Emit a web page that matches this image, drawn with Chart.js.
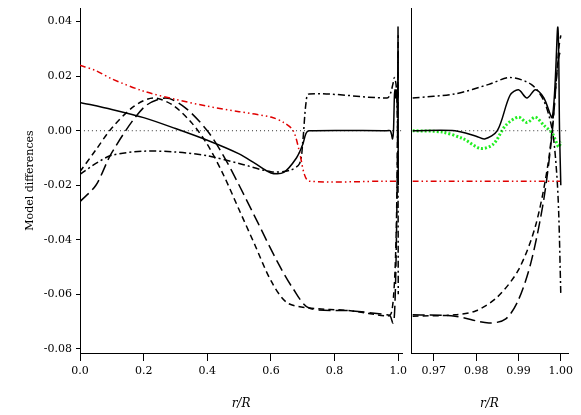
<!DOCTYPE html>
<html><head><meta charset="utf-8">
<script src="https://cdn.jsdelivr.net/npm/chart.js@4.4.0/dist/chart.umd.min.js"></script>
<style>
body{margin:0;background:#fff;width:581px;height:415px;position:relative;overflow:hidden}
#c1{position:absolute;left:0;top:-7px}
#c2{position:absolute;left:409px;top:0}
</style></head><body>
<canvas id="c1" width="411" height="422"></canvas>
<canvas id="c2" width="172" height="415"></canvas>
<script>
// interior (r/R 0 .. 0.965)
const solidIn   = [[0,0.0104],[0.1,0.0078],[0.2,0.0048],[0.3,0.0008],[0.4,-0.0035],[0.5,-0.0085],[0.55,-0.012],[0.6,-0.0155],[0.64,-0.0153],[0.68,-0.010],[0.70,-0.005],[0.71,-0.001],[0.72,0.0],[0.965,0.0]];
const redIn     = [[0,0.024],[0.05,0.022],[0.1,0.019],[0.2,0.0145],[0.3,0.0115],[0.4,0.009],[0.5,0.007],[0.6,0.005],[0.64,0.003],[0.67,0.0],[0.69,-0.008],[0.705,-0.016],[0.72,-0.0185],[0.965,-0.0185]];
const dashDotIn = [[0,-0.016],[0.05,-0.012],[0.1,-0.009],[0.2,-0.0075],[0.3,-0.0078],[0.4,-0.0092],[0.5,-0.012],[0.6,-0.015],[0.66,-0.0145],[0.69,-0.012],[0.70,-0.004],[0.71,0.01],[0.72,0.0135],[0.965,0.012]];
const longIn    = [[0,-0.026],[0.05,-0.02],[0.1,-0.008],[0.2,0.0085],[0.27,0.012],[0.33,0.0085],[0.4,0.0],[0.45,-0.009],[0.5,-0.02],[0.56,-0.034],[0.62,-0.048],[0.67,-0.058],[0.72,-0.065],[0.85,-0.066],[0.965,-0.0675]];
const shortIn   = [[0,-0.015],[0.05,-0.007],[0.1,0.001],[0.17,0.009],[0.23,0.012],[0.29,0.0095],[0.35,0.003],[0.4,-0.005],[0.45,-0.016],[0.5,-0.029],[0.55,-0.042],[0.6,-0.055],[0.65,-0.063],[0.72,-0.065],[0.85,-0.066],[0.965,-0.068]];
// outer layers (r/R 0.965 .. 1.0)
const solidOut   = [[0.965,0.0],[0.975,0.0],[0.98,-0.002],[0.982,-0.003],[0.985,0.0],[0.988,0.013],[0.990,0.015],[0.992,0.012],[0.994,0.015],[0.996,0.012],[0.998,0.005],[0.9993,0.038],[0.9997,0.0],[1.0,-0.02]];
const greenOut   = [[0.965,0.0],[0.972,-0.0005],[0.977,-0.003],[0.981,-0.0065],[0.984,-0.005],[0.987,0.002],[0.990,0.005],[0.992,0.003],[0.994,0.005],[0.996,0.002],[0.998,-0.001],[0.9995,-0.006],[1.0,-0.004]];
const redOut     = [[0.965,-0.0185],[1.0,-0.0185]];
const dashDotOut = [[0.965,0.012],[0.975,0.0135],[0.983,0.017],[0.988,0.0195],[0.993,0.017],[0.996,0.011],[0.998,0.0],[0.999,-0.015],[0.9995,-0.03],[1.0,-0.06]];
const longOut    = [[0.965,-0.0675],[0.975,-0.068],[0.983,-0.0705],[0.987,-0.069],[0.99,-0.062],[0.993,-0.048],[0.996,-0.025],[0.998,0.0],[0.9993,0.025],[1.0,0.03]];
const shortOut   = [[0.965,-0.068],[0.975,-0.0675],[0.98,-0.066],[0.985,-0.061],[0.99,-0.051],[0.994,-0.035],[0.997,-0.012],[0.9985,0.01],[0.9995,0.03],[1.0,0.035]];
const yTicks = [0.04,0.02,0.0,-0.02,-0.04,-0.06,-0.08];
const xTicksL = [0,0.2,0.4,0.6,0.8,1.0];
const xTicksR = [0.97,0.98,0.99,1.00];

const pts = a => a.map(p => ({x:p[0], y:p[1]}));
const FONT = {family:'DejaVu Serif', size:11};

function sets(solid, red, dd, longd, shortd, green) {
    const base = {pointRadius:0, borderWidth:1.5, fill:false, tension:0.3};
    const s = [
        {...base, data:pts(solid), borderColor:'#000'},
        {...base, data:pts(red), borderColor:'#e00000', borderDash:[6,3,1.5,3,1.5,3]},
        {...base, data:pts(dd), borderColor:'#000', borderDash:[7,3,2,3]},
        {...base, data:pts(longd), borderColor:'#000', borderDash:[12,5]},
        {...base, data:pts(shortd), borderColor:'#000', borderDash:[6,4]},
        {...base, data:[{x:0,y:0},{x:1.1,y:0}], borderColor:'#000', borderWidth:0.8, borderDash:[1,3]}
    ];
    if (green) s.push({...base, data:pts(green), borderColor:'#22ee22', borderWidth:3, borderDash:[2,2]});
    return s;
}

function makeChart(id, ds, xmin, xmax, xt, fmt, showY) {
    new Chart(document.getElementById(id), {
        type:'line',
        data:{datasets:ds},
        options:{
            responsive:false, animation:false,
            layout:{padding:{top: showY ? 15 : 8, right: showY ? 0 : 13, left: showY ? 24 : 0}},
            plugins:{legend:{display:false}, tooltip:{enabled:false}},
            scales:{
                x:{type:'linear', min:xmin, max:xmax,
                   afterBuildTicks: ax => { ax.ticks = xt.map(v => ({value:v})); },
                   afterFit: ax => { ax.height = 62; },
                   grid:{drawOnChartArea:false, color:'#000'},
                   border:{color:'#000'},
                   ticks:{color:'#000', font:FONT, padding:4, maxRotation:0, callback:fmt},
                   title:{display:true, text:'r/R', color:'#000', font:{...FONT, style:'italic', size:12}, padding:{top:0}}},
                y:{min:-0.0815, max:0.045,
                   afterBuildTicks: ax => { ax.ticks = yTicks.map(v => ({value:v})); },
                   afterFit: ax => { ax.width = showY ? 56 : 2; },
                   grid:{drawOnChartArea:false, tickLength:showY ? 4 : 0, color:'#000'},
                   border:{color:'#000'},
                   ticks:{display:showY, color:'#000', font:FONT, padding:4, callback:v => v.toFixed(2)},
                   title:{display:showY, text:'Model differences', color:'#000', font:FONT, padding:0}}
            }
        }
    });
}

makeChart('c1', sets(solidIn.concat(solidOut.slice(1)), redIn.concat(redOut.slice(1)), dashDotIn.concat(dashDotOut.slice(1)),
                     longIn.concat(longOut.slice(1)), shortIn.concat(shortOut.slice(1)), null),
          0, 1.012, xTicksL, v => v.toFixed(1), true);
makeChart('c2', sets(solidOut, redOut, dashDotOut, longOut, shortOut, greenOut),
          0.9646, 1.0017, xTicksR, v => v.toFixed(2), false);
</script>
</body></html>
